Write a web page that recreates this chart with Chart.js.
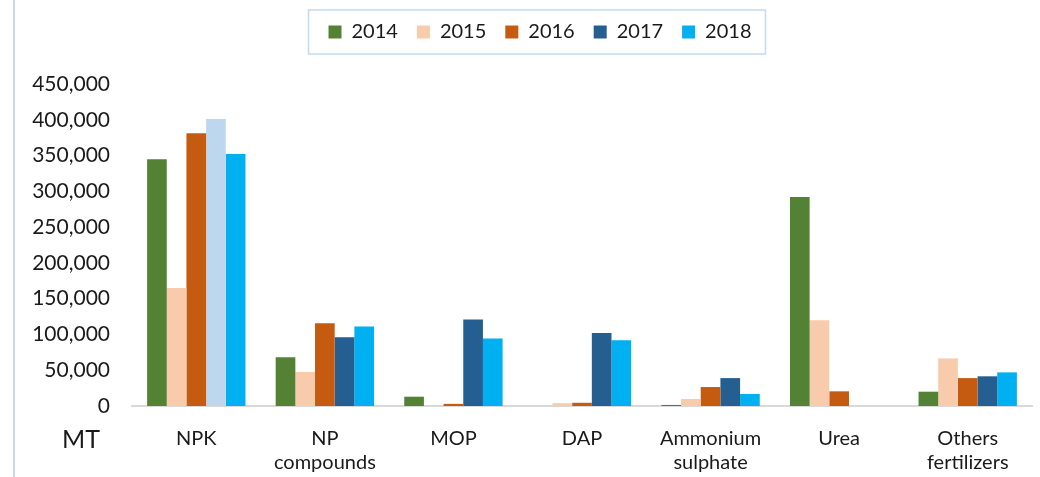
<!DOCTYPE html>
<html>
<head>
<meta charset="utf-8">
<script src="https://cdn.jsdelivr.net/npm/chart.js@4/dist/chart.umd.min.js"></script>
<style>
  html, body { margin: 0; padding: 0; background: #ffffff; }
  #wrap { width: 1040px; height: 477px; position: relative; }
</style>
</head>
<body>
<div id="wrap"><canvas id="c" width="1040" height="477"></canvas></div>
<script>
const categories = [["NPK"], ["NP", "compounds"], ["MOP"], ["DAP"], ["Ammonium", "sulphate"], ["Urea"], ["Others", "fertilizers"]];
const years = ["2014", "2015", "2016", "2017", "2018"];
const v2014 = [345000, 68000, 13000, 0, 1500, 292000, 20000];
const v2015 = [165000, 47500, 0, 4000, 9800, 120000, 66500];
const v2016 = [381000, 115500, 3000, 4500, 26500, 20500, 39000];
const v2017 = [401000, 96000, 121000, 102000, 39000, 0, 41500];
const v2018 = [352000, 111000, 94500, 92000, 16800, 0, 47000];
const yTicksMax = 450000;
const yTickStep = 50000;
const unitLabel = "MT";

const colors = ["#548235", "#F8CBAD", "#C55A11", "#255E91", "#00B0F0"];
const series = [v2014, v2015, v2016, v2017, v2018];

const datasets = series.map((vals, i) => {
  let bg = colors[i];
  if (i === 3) {
    bg = vals.map((v, j) => j === 0 ? "#BDD7EE" : colors[3]);
  }
  return {
    label: years[i],
    data: vals,
    backgroundColor: bg,
    borderWidth: 0,
    barPercentage: 1.0,
    categoryPercentage: 0.765
  };
});

const FONT = "Lato, 'Open Sans', sans-serif";

const decor = {
  id: "decor",
  beforeInit(chart) {
    const lg = chart.legend;
    if (lg) {
      const orig = lg.fit;
      lg.fit = function () { orig.call(this); this.height += 32; };
    }
  },
  afterLayout(chart) {
    const lg = chart.legend;
    if (lg) {
      lg.left += 24;
      lg.right += 24;
    }
  },
  afterDraw(chart) {
    const ctx = chart.ctx;
    const ca = chart.chartArea;
    ctx.save();
    // left frame line
    ctx.strokeStyle = "#C5DAF0";
    ctx.lineWidth = 2;
    ctx.beginPath();
    ctx.moveTo(14, 0);
    ctx.lineTo(14, 477);
    ctx.stroke();
    // legend border
    const hb = chart.legend.legendHitBoxes;
    if (hb && hb.length) {
      const first = hb[0], last = hb[hb.length - 1];
      const l = first.left - 20;
      const r = last.left + last.width + 14;
      const cy = first.top + first.height / 2;
      ctx.strokeStyle = "#C5DAF0";
      ctx.lineWidth = 1.5;
      ctx.strokeRect(l, cy - 22, r - l, 44);
    }
    // unit label
    ctx.fillStyle = "#1a1a1a";
    ctx.font = "25px " + FONT;
    ctx.textAlign = "left";
    ctx.textBaseline = "alphabetic";
    ctx.fillText(unitLabel, ca.left - 70, ca.bottom + 42);
    ctx.restore();
  }
};

new Chart(document.getElementById("c"), {
  type: "bar",
  data: { labels: categories, datasets: datasets },
  options: {
    responsive: false,
    animation: false,
    devicePixelRatio: 1,
    layout: { padding: { left: 0, right: 8, top: 3, bottom: 0 } },
    plugins: {
      legend: {
        position: "top",
        labels: {
          boxWidth: 13,
          boxHeight: 13,
          padding: 19,
          color: "#1a1a1a",
          font: { family: FONT, size: 20 },
          generateLabels(chart) {
            const items = Chart.defaults.plugins.legend.labels.generateLabels(chart);
            items.forEach((it, i) => { it.fillStyle = colors[i]; it.strokeStyle = colors[i]; it.lineWidth = 0; });
            return items;
          }
        }
      },
      tooltip: { enabled: false }
    },
    scales: {
      x: {
        grid: { display: false, drawTicks: false },
        border: { display: true, color: "#D9D9D9", width: 2 },
        ticks: {
          color: "#1a1a1a",
          padding: 21,
          maxRotation: 0,
          autoSkip: false,
          font: { family: FONT, size: 20, lineHeight: 1.2 }
        },
        afterFit(scale) { scale.height = 71; }
      },
      y: {
        min: 0,
        max: yTicksMax,
        grid: { display: false, drawTicks: false },
        border: { display: false },
        ticks: {
          stepSize: yTickStep,
          color: "#1a1a1a",
          padding: 22,
          font: { family: FONT, size: 21 },
          callback: (v) => v.toLocaleString("en-US")
        },
        afterFit(scale) { scale.width = 132; }
      }
    }
  },
  plugins: [decor]
});
</script>
</body>
</html>
